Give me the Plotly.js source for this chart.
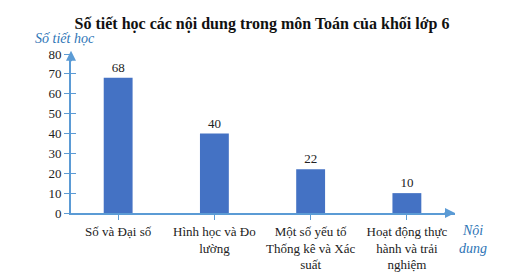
<!DOCTYPE html>
<html>
<head>
<meta charset="utf-8">
<script src="https://cdn.plot.ly/plotly-3.0.1.min.js"></script>
<style>
  html, body { margin: 0; padding: 0; background: #fff; }
  #chart { width: 524px; height: 278px; }
</style>
</head>
<body>
<div id="chart"></div>
<script>
// Số tiết học theo nội dung
const categories = ["Số và Đại số", "Hình học và Đo lường", "Một số yếu tố Thống kê và Xác suất", "Hoạt động thực hành và trải nghiệm"];
const tickLabels = ["Số và Đại số", "Hình học và Đo<br>lường", "Một số yếu tố<br>Thống kê và Xác<br>suất", "Hoạt động thực<br>hành và trải<br>nghiệm"];
const lessons = [68, 40, 22, 10];
const yTicks = [0, 10, 20, 30, 40, 50, 60, 70, 80];

const serif = "Liberation Serif";
const axisBlue = "#5b9bd5";
const labelBlue = "#2e75b6";

const trace = {
  type: "bar",
  x: categories,
  y: lessons,
  width: 0.3,
  marker: { color: "#4472c4" },
  text: lessons.map(String),
  textposition: "outside",
  textfont: { family: serif, size: 13, color: "#222" },
  cliponaxis: false,
  hoverinfo: "none"
};

// second, invisible trace so the y ticks can cross the axis line on both sides
const ghost = {
  type: "scatter", x: [categories[0]], y: [0], yaxis: "y2",
  mode: "markers", marker: { opacity: 0 }, hoverinfo: "none", showlegend: false
};

const layout = {
  width: 524, height: 278,
  margin: { l: 71, r: 69, t: 54, b: 65 },
  paper_bgcolor: "#fff", plot_bgcolor: "#fff",
  showlegend: false,
  font: { family: serif, color: "#222" },
  title: {
    text: "<b>Số tiết học các nội dung trong môn Toán của khối lớp 6</b>",
    font: { family: serif, size: 16, color: "#111" },
    x: 0.5, xanchor: "center", y: 0.915, yanchor: "middle"
  },
  xaxis: {
    type: "category",
    range: [-0.49, 3.5],
    tickvals: categories, ticktext: tickLabels,
    showline: true, linecolor: axisBlue, linewidth: 2,
    ticks: "outside", ticklen: 5, tickcolor: axisBlue, tickwidth: 1,
    tickfont: { family: serif, size: 13, color: "#222" },
    showgrid: false, zeroline: false, fixedrange: true
  },
  yaxis: {
    range: [0, 80],
    tickvals: yTicks,
    showline: true, linecolor: axisBlue, linewidth: 2,
    ticks: "outside", ticklen: 5, tickcolor: axisBlue, tickwidth: 1,
    tickfont: { family: serif, size: 13, color: "#222" },
    showgrid: false, zeroline: false, fixedrange: true
  },
  yaxis2: {
    overlaying: "y", side: "left", anchor: "x",
    range: [0, 80], tickvals: yTicks,
    ticks: "inside", ticklen: 5, tickcolor: axisBlue, tickwidth: 1,
    showticklabels: false, showline: false, showgrid: false, zeroline: false
  },
  annotations: [
    { // arrow tip of the vertical axis
      xref: "paper", yref: "paper", x: 0, y: 1.02, ax: 0, ay: 12,
      text: "", showarrow: true, arrowhead: 2, arrowsize: 1, arrowwidth: 2, arrowcolor: axisBlue
    },
    { // arrow tip of the horizontal axis
      xref: "paper", yref: "paper", x: 1.0, y: 0, ax: -12, ay: 0,
      text: "", showarrow: true, arrowhead: 2, arrowsize: 1, arrowwidth: 2, arrowcolor: axisBlue
    },
    {
      xref: "paper", yref: "paper", x: -0.1, y: 1.1, xanchor: "left", yanchor: "middle",
      text: "<i>Số tiết học</i>", showarrow: false,
      font: { family: serif, size: 14, color: labelBlue }
    },
    {
      xref: "paper", yref: "paper", x: 1.005, y: -0.05, xanchor: "left", yanchor: "top",
      text: "<i>Nội<br>dung</i>", showarrow: false, align: "center",
      font: { family: serif, size: 14, color: labelBlue }
    }
  ]
};

Plotly.newPlot("chart", [trace, ghost], layout, { displayModeBar: false, staticPlot: true });
</script>
</body>
</html>
